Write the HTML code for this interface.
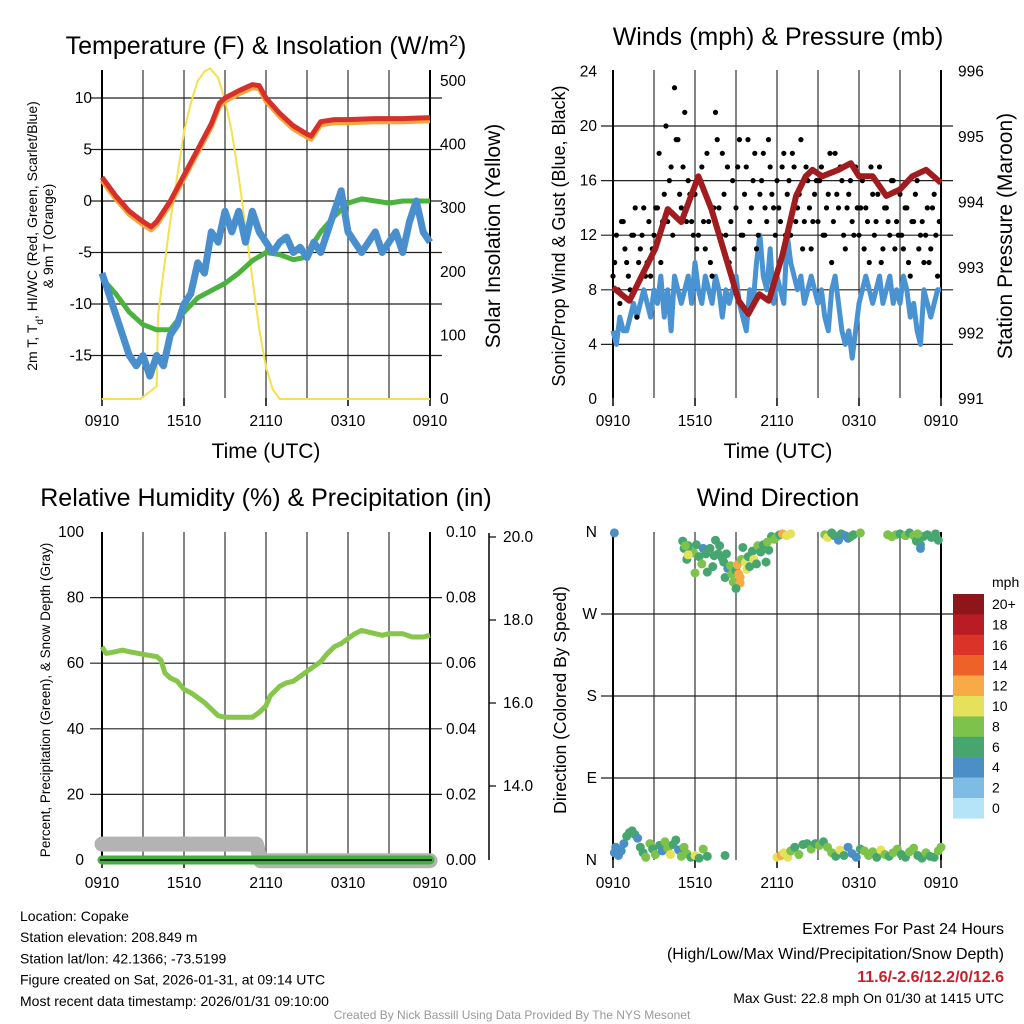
<!DOCTYPE html>
<html><head><meta charset="utf-8"><style>
html,body{margin:0;padding:0;background:#fff}
svg{display:block;font-family:"Liberation Sans",Arial,sans-serif}
</style></head><body>
<svg id="c" width="1024" height="1024" viewBox="0 0 1024 1024"></svg>
<script>
// ===== Data (hours since 0910 UTC) =====
const xTickLabels=["0910","1510","2110","0310","0910"];
const tT=[0,1,2,3,3.6,4,5,6,7,8,8.6,9,10,11,11.5,12,13,14,15,15.3,16,17,18,20,22,24];
const tempV=[2.3,0.5,-1,-2,-2.5,-2,0,2.5,5,7.5,9.5,10,10.7,11.3,11.2,10,8.5,7.3,6.5,6.3,7.7,7.9,7.9,8,8,8.1];
const tD=[0,1,2,3,4,5,6,7,8,9,10,11,12,13,14,14.8,16,17,18,19,20,21,22,23,24];
const dewV=[-7.5,-9,-10.8,-12,-12.5,-12.5,-10.8,-9.4,-8.7,-8,-7,-5.8,-5,-5.2,-5.7,-5.5,-3,-1.5,-0.2,0.2,0,-0.2,0,0,0];
const tW=[0,0.5,1,1.5,2,2.5,3,3.5,4,4.5,5,5.5,6,6.5,7,7.5,8,8.5,9,9.5,10,10.5,11,11.5,12,12.5,13,13.5,14,14.5,15,15.5,16,16.5,17,17.5,18,18.5,19,19.5,20,20.5,21,21.5,22,22.5,23,23.5,24];
const wcV=[-7,-9,-11,-13,-15,-16,-15,-17,-15,-16,-13,-12,-10,-9,-6,-7,-3,-4,-1,-3,-1,-4,-1,-3,-4,-5,-4,-3.5,-5,-4.5,-5.5,-4,-5,-3,-1,1,-3,-4,-5,-4,-3,-5,-4,-3,-5,-2,0,-3,-4];
const tSol=[0,2.8,4.0,4.1,4.5,5,5.5,6,6.5,7,7.5,7.9,8.5,9,9.5,10,10.5,11,11.5,12,12.5,13,24];
const solV=[0,0,20,130,200,280,350,420,465,500,515,520,505,470,420,350,270,190,110,50,15,0,0];
const windV=[5,4,6,5,5,6,7,6,7,8,7,6,8,7,9,6,8,5,9,8,7,8,9,7,10,8,7,9,8,7,9,8,6,8,7,8,9,7,6,5,8,7,10,12,9,8,11,7,9,8,7,12,10,9,8,9,7,8,9,8,7,8,6,5,8,9,7,5,4,5,3,5,7,8,9,8,7,8,9,7,8,9,7,8,7,9,8,6,7,5,4,8,7,6,7,8,8];
const tPr=[0,1.2,3.1,4,5,6.25,7.2,8.2,9.2,9.9,10.7,11.4,12.4,13.4,14.1,14.6,15.3,16.5,17.4,18,19,20,21,21.9,22.9,24];
const presV=[992.7,992.5,993.3,993.9,993.7,994.4,993.9,993.2,992.5,992.3,992.6,992.5,993.2,994.1,994.4,994.5,994.4,994.5,994.6,994.4,994.4,994.1,994.2,994.4,994.5,994.3];
const gustA=[9,12,7,13,10,8,12,6,11,14,10,9,12,14,10,15,13,17,22.8,19,14,21,16,13,15,12,17,11,13,9,21,14,18,12,10,16,14,19,12,17,13,16,11,15,18,13,17,14,16,13,18,15,12,17,14,19,13,16,11,15,13,17,12,15,10,18,14,16,11,15,13,17,12,16,14,10,15,13,17,11,14,12,16,13,15,11,14,9,13,16,12,10,14,11,15,9];
const gustB=[10,8,13,11,9,12,14,10,12,9,13,11,14,18,13,20,16,12,19,15,17,13,15,12,11,16,13,18,10,14,19,12,15,17,13,11,17,12,15,19,14,18,12,16,14,19,15,12,14,17,12,16,18,13,15,11,17,14,13,16,16,12,14,18,13,15,17,12,14,16,12,14,14,11,13,17,12,15,10,14,13,16,11,12,12,14,10,13,15,11,13,12,10,14,12,13];
const tRH=[0,0.3,1,1.5,2,3,4,4.3,4.6,5,5.5,6,6.5,7,7.5,8,8.5,9,10,11,11.5,12,12.3,13,13.5,14,14.5,15,16,16.5,17,17.5,18,18.5,19,20,20.5,21,22,22.7,23.5,24];
const rhV=[65,63,63.5,64,63.5,62.7,62,61,57,55.5,54.5,52,51,49.5,48,46,44,43.5,43.5,43.5,45,47,50,53,54,54.5,56,57.5,60.5,63,65,66,67.5,69,70,69,68.5,69,69,68,68,68.5];
const tSnow=[0,1,2,3,4,5,6,7,8,9,10,10.5,11,11.3,11.6,12,14,16,18,20,22,24];
const snowV=[12.6,12.6,12.6,12.6,12.6,12.6,12.6,12.6,12.6,12.6,12.6,12.6,12.6,12.6,12.2,12.2,12.2,12.2,12.2,12.2,12.2,12.2];
const dirT=[0.1,5.1,5.2,5.5,5.7,5.4,5.9,6.1,6.3,6.5,6.6,6.8,7.1,6.9,7.3,7.4,7.5,7.7,7.8,8.0,8.2,8.3,8.4,8.1,8.6,8.7,8.8,9.0,9.1,9.2,9.3,9.3,9.5,9.4,9.7,9.8,9.9,10.0,10.2,10.3,10.5,10.6,10.8,11.0,11.2,11.4,11.6,11.8,12.0,12.2,12.4,12.7,13.0,11.3,9.0,5.3,5.5,6.0,
15.5,15.7,16.0,16.2,16.5,16.7,17.0,17.2,17.4,17.6,18.1,20.1,20.4,20.7,21.0,21.4,21.7,22.0,22.2,22.5,22.7,22.5,23.0,23.3,23.6,23.8,22.3,
0.1,0.2,0.4,0.6,0.8,1.0,1.2,1.4,1.6,1.8,2.0,2.2,2.4,2.7,2.9,3.1,3.4,3.6,3.8,4.0,4.2,4.4,4.6,4.8,5.0,5.2,5.4,5.7,6.0,6.3,6.6,6.9,8.2,
12.0,12.3,12.5,12.8,13.0,13.3,13.6,13.9,14.2,14.5,14.8,15.1,15.4,15.7,16.0,16.3,16.6,16.9,17.2,17.5,17.8,18.1,18.4,18.7,19.0,19.3,19.6,19.9,20.2,20.5,20.8,21.1,21.4,21.7,22.0,22.3,22.6,22.9,23.2,23.5,23.8,24.0];
const dirV=[359,350,342,345,338,330,337,346,333,325,342,336,342,316,322,334,351,336,345,331,310,336,320,327,323,314,305,318,324,314,310,304,343,330,327,319,333,322,339,330,325,345,338,346,327,340,355,352,355,357,358,356,358,349,298,345,335,315,
357,354,359,356,351,358,356,353,355,357,359,357,355,357,358,356,359,356,350,346,355,342,357,354,358,351,358,
8,14,5,10,18,26,30,32,28,24,14,8,3,18,12,6,16,10,20,13,6,17,22,11,4,14,7,3,5,2,12,4,5,
3,5,8,3,10,14,6,17,18,12,18,16,20,14,8,4,11,5,14,7,3,12,10,5,9,3,11,6,4,8,12,6,3,9,13,5,2,8,4,3,10,14];
const dirS=[4,7,7,6,6,7,9,7,6,9,5,6,6,7,7,6,7,6,6,6,6,6,5,7,9,9,8,7,12,12,12,13,7,9,10,10,7,6,6,10,7,8,7,7,7,6,7,8,8,7,12,10,10,8,7,8,10,8,
8,10,6,6,4,6,4,4,6,6,8,8,8,8,6,8,6,8,6,6,6,4,6,6,6,6,8,
4,4,4,4,4,6,6,6,6,4,6,6,8,8,6,8,6,4,8,8,10,6,6,4,8,8,8,6,10,6,8,6,6,
10,12,10,10,8,6,8,6,6,8,6,8,6,8,8,6,10,6,4,4,4,6,8,8,8,6,10,8,6,8,8,6,6,8,8,6,6,8,6,6,8,8];
const cbLabels=["20+","18","16","14","12","10","8","6","4","2","0"];
const cbColors=["#8e1519","#b91c24","#db3328","#ee6129","#f7aa45","#e6e15b","#7dc34b","#47a66f","#4a8fc5","#7fbce4","#b4e4f8"];

// ===== helpers =====
const S=document.getElementById('c');const NS='http://www.w3.org/2000/svg';
function mk(tag,at,parent){const e=document.createElementNS(NS,tag);for(const k in at)e.setAttribute(k,at[k]);(parent||S).appendChild(e);return e;}
function txt(s,x,y,size,anchor,extra){const e=mk('text',Object.assign({x:x,y:y,'font-size':size,'text-anchor':anchor||'middle',fill:'#000'},extra||{}));e.textContent=s;return e;}
function path(xs,ys,fx,fy){let d='';for(let i=0;i<xs.length;i++)d+=(i?'L':'M')+fx(xs[i]).toFixed(1)+','+fy(ys[i]).toFixed(1);return d;}
const W=328,H=328;
function frame(x0,y0,hGrid,name){
  const g=mk('g',{});
  
  
  for(let i=1;i<8;i++){const x=x0+i*W/8;mk('line',{x1:x,y1:y0,x2:x,y2:y0+H,stroke:'#333','stroke-width':1.2},g);}
  hGrid.forEach(y=>mk('line',{x1:x0-12,y1:y,x2:x0+W+12,y2:y,stroke:'#222','stroke-width':1.2},g));
  const ax=mk('g',{});
  
  
  for(let i=0;i<=4;i++){const x=x0+i*W/4;const t=txt(xTickLabels[i],x,y0+H+28,15.5);
    
    
    mk('line',{x1:x,y1:y0+H,x2:x,y2:y0+H+8,stroke:'#000','stroke-width':1.5},ax);}
  mk('line',{x1:x0,y1:y0,x2:x0,y2:y0+H,stroke:'#000','stroke-width':2},ax);
  mk('line',{x1:x0+W,y1:y0,x2:x0+W,y2:y0+H,stroke:'#000','stroke-width':2},ax);
}
function yLabels(labels,ys,x,anchor,size){labels.forEach((l,i)=>{const t=txt(l,x,ys[i]+5,size||15.5,anchor);
  
  });}
function rot(s,x,y,size,name){const t=txt(s,x,y,size,'middle',{transform:'rotate(-90 '+x+' '+y+')'});
  
  return t;}

// ===== Panel 1: Temperature =====
const x1=h=>102+h*W/24, yT=v=>201-v*10.3, yS=v=>399-v*0.636;
frame(102,70,[10,5,0,-5,-10,-15].map(yT),'temp');
yLabels(['10','5','0','-5','-10','-15'],[10,5,0,-5,-10,-15].map(yT),92,'end');
yLabels(['500','400','300','200','100','0'],[500,400,300,200,100,0].map(yS),440,'start');
let e;
e=txt('',266,54,25);e.innerHTML='Temperature (F) &amp; Insolation (W/m<tspan baseline-shift="super" font-size="16">2</tspan>)';


e=txt('Time (UTC)',266,458,21);


e=mk('text',{x:0,y:0,'font-size':14,'text-anchor':'middle',transform:'translate(37,236) rotate(-90)'});
e.innerHTML='2m T, T<tspan baseline-shift="sub" font-size="10">d</tspan>, HI/WC (Red, Green, Scarlet/Blue)';


rot('& 9m T (Orange)',53,236,14,'temp-y-axis-title-line2');
rot('Solar Insolation (Yellow)',500,236,21,'solar-y-axis-title');
e=mk('path',{d:path(tSol,solV,x1,yS),fill:'none',stroke:'#f5e04f','stroke-width':2});


e=mk('path',{d:path(tD,dewV,x1,yT),fill:'none',stroke:'#4cb23f','stroke-width':5,'stroke-linejoin':'round'});


e=mk('path',{d:path(tW,wcV,x1,yT),fill:'none',stroke:'#4a8fcd','stroke-width':7,'stroke-linejoin':'round'});


e=mk('path',{d:path(tT,tempV.map(v=>v-0.3),x1,yT),fill:'none',stroke:'#f4a53c','stroke-width':5,'stroke-linejoin':'round'});


e=mk('path',{d:path(tT,tempV,x1,yT),fill:'none',stroke:'#d7302b','stroke-width':5,'stroke-linejoin':'round'});



// ===== Panel 2: Winds & Pressure =====
const x2=h=>613+h*W/24, yW=v=>399-v*13.65, yP=v=>399-(v-991)*65.5;
frame(613,70,[4,8,12,16,20].map(yW),'wind');
yLabels(['24','20','16','12','8','4','0'],[24,20,16,12,8,4,0].map(yW),597,'end');
yLabels(['996','995','994','993','992','991'],[996,995,994,993,992,991].map(yP),958,'start');
e=txt('Winds (mph) & Pressure (mb)',778,45,25);


e=txt('Time (UTC)',778,458,21);


rot('Sonic/Prop Wind & Gust (Blue, Black)',565,236,18,'wind-y-axis-title');
rot('Station Pressure (Maroon)',1012,236,21,'pressure-y-axis-title');
e=mk('path',{d:path(windV.map((v,i)=>i*0.25),windV,x2,yW),fill:'none',stroke:'#4a93d2','stroke-width':5,'stroke-linejoin':'round'});


const gg=mk('g',{});


gustA.forEach((v,i)=>mk('circle',{cx:x2(i*0.25),cy:yW(v),r:2.6,fill:'#000'},gg));
gustB.forEach((v,i)=>mk('circle',{cx:x2(i*0.25+0.125),cy:yW(v),r:2.6,fill:'#000'},gg));
e=mk('path',{d:path(tPr,presV,x2,yP),fill:'none',stroke:'#a01c1f','stroke-width':6,'stroke-linejoin':'round'});



// ===== Panel 3: RH & Precip =====
const x3=h=>102+h*W/24, yRH=v=>860-v*3.28, ySn=v=>786-(v-14)*41.5;
frame(102,532,[20,40,60,80].map(yRH),'rh');
yLabels(['100','80','60','40','20','0'],[100,80,60,40,20,0].map(yRH),84,'end');
yLabels(['0.10','0.08','0.06','0.04','0.02','0.00'],[100,80,60,40,20,0].map(yRH),446,'start');
e=mk('line',{x1:489,y1:533,x2:489,y2:860,stroke:'#000','stroke-width':1.5});


[20,18,16,14].forEach(v=>mk('line',{x1:489,y1:ySn(v),x2:496,y2:ySn(v),stroke:'#000','stroke-width':1.2}));
yLabels(['20.0','18.0','16.0','14.0'],[20,18,16,14].map(ySn),503,'start');
e=txt('Relative Humidity (%) & Precipitation (in)',266,506,25);


rot('Percent, Precipitation (Green), & Snow Depth (Gray)',50,700,13.5,'rh-y-axis-title');
e=mk('path',{d:path(tSnow,snowV,x3,ySn),fill:'none',stroke:'#b3b3b3','stroke-width':15,'stroke-linecap':'round','stroke-linejoin':'round'});


e=mk('line',{x1:x3(0),y1:yRH(0),x2:x3(24),y2:yRH(0),stroke:'#43b03e','stroke-width':9,'stroke-linecap':'round'});


mk('line',{x1:100,y1:860,x2:432,y2:860,stroke:'#000','stroke-width':1.5});
e=mk('path',{d:path(tRH,rhV,x3,yRH),fill:'none',stroke:'#86c64a','stroke-width':5,'stroke-linejoin':'round'});



// ===== Panel 4: Wind Direction =====
const x4=h=>613+h*W/24, yD=d=>860-d*H/360;
frame(613,532,[270,180,90].map(yD),'dir');
yLabels(['N','W','S','E','N'],[360,270,180,90,0].map(yD),597,'end');
e=txt('Wind Direction',778,506,25);


rot('Direction (Colored By Speed)',566,700,17.5,'direction-y-axis-title');
const dg=mk('g',{});


dirT.forEach((t,i)=>{const idx=Math.min(10,Math.floor(dirS[i]/2));mk('circle',{cx:x4(t),cy:yD(dirV[i]),r:4.5,fill:cbColors[10-idx]},dg);});
const cb=mk('g',{});


cbColors.forEach((c,i)=>{mk('rect',{x:953,y:594+i*20.4,width:31,height:20.6,fill:c},cb);
  const t=txt(cbLabels[i],992,594+i*20.4+15,14,'start');
  
  });
e=txt('mph',992,587,14,'start');



// ===== Footer =====
['Location: Copake','Station elevation: 208.849 m','Station lat/lon: 42.1366; -73.5199','Figure created on Sat, 2026-01-31, at 09:14 UTC','Most recent data timestamp: 2026/01/31 09:10:00'].forEach((s,i)=>{
  const t=txt(s,20,921+i*21.2,14,'start');
  
  });
e=txt('Extremes For Past 24 Hours',1004,934,16,'end');


e=txt('(High/Low/Max Wind/Precipitation/Snow Depth)',1004,959,16,'end');


e=txt('11.6/-2.6/12.2/0/12.6',1004,982,16,'end',{fill:'#c8202a','font-weight':'bold'});


e=txt('Max Gust: 22.8 mph On 01/30 at 1415 UTC',1004,1003,14,'end');


e=txt('Created By Nick Bassill Using Data Provided By The NYS Mesonet',512,1019,12,'middle',{fill:'#999'});


</script>
</body></html>
